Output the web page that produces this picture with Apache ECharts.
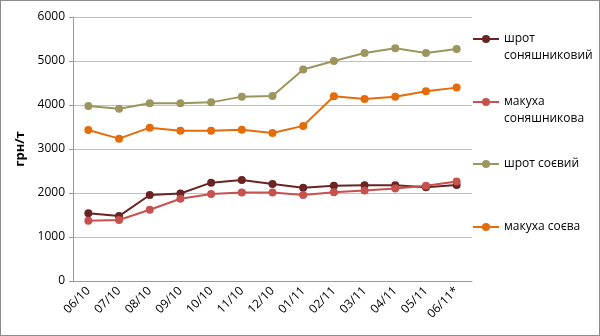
<!DOCTYPE html>
<html><head><meta charset="utf-8">
<script src="https://cdn.jsdelivr.net/npm/echarts@6/dist/echarts.min.js"></script>
<style>
html,body{margin:0;padding:0;background:#fff;}
#c{position:absolute;left:0;top:0;width:598px;height:334px;border:1px solid #8c8c8c;}
</style></head>
<body><div id="c"></div>
<script>
const categories = ['06/10','07/10','08/10','09/10','10/10','11/10','12/10','01/11','02/11','03/11','04/11','05/11','06/11*'];
const sunMeal = [1540,1475,1955,1990,2235,2295,2205,2120,2165,2175,2175,2130,2180];
const sunCake = [1370,1385,1620,1870,1975,2010,2010,1955,2015,2055,2100,2165,2260];
const soyMeal = [3975,3915,4040,4040,4060,4190,4205,4805,5000,5180,5290,5180,5275];
const soyCake = [3430,3235,3485,3415,3415,3440,3365,3525,4200,4135,4190,4310,4395];
const names = ['шрот\nсоняшниковий','макуха\nсоняшникова','шрот соєвий','макуха соєва'];
const colors = ['#6B2424','#C8504D','#9C965E','#E46C0A'];
const yTicks = {min:0,max:6000,interval:1000};

const chart = echarts.init(document.getElementById('c'));
const font = '"Open Sans", "Noto Sans", sans-serif';
const markerY = [38, 101, 163, 226];
const seriesData = [sunMeal, sunCake, soyMeal, soyCake];
chart.setOption({
  animation:false,
  textStyle:{fontFamily:font},
  grid:{left:72,right:127,top:16,bottom:54,containLabel:false},
  legend: names.map((n,i)=>{
    const two = n.indexOf('\n')>=0;
    return {
      data:[n], orient:'vertical', left:471, top: two ? markerY[i]-25.5 : markerY[i]-8.5,
      padding:0, itemWidth:26, itemHeight:10, itemGap:0,
      formatter: name => name.indexOf('\n')>=0 ? '{e| }\n' + name.split('\n').map(s=>'{t|'+s+'}').join('\n') : '{t|'+name+'}',
      textStyle:{fontSize:12,color:'#000',fontFamily:font,
        rich:{e:{height:17,lineHeight:17,fontSize:12},t:{height:17,lineHeight:17,fontSize:12,color:'#000',fontFamily:font}}},
      selectedMode:false
    };
  }),
  xAxis:{type:'category',data:categories,boundaryGap:true,
    axisLine:{lineStyle:{color:'#999',width:1}},
    axisTick:{show:false},
    axisLabel:{rotate:45,fontSize:12,color:'#000',margin:8,interval:0,fontFamily:font}
  },
  yAxis:{type:'value',min:yTicks.min,max:yTicks.max,interval:yTicks.interval,
    name:'грн/т',nameLocation:'middle',nameGap:46,
    nameTextStyle:{fontSize:13,fontWeight:'bold',color:'#000',fontFamily:font},
    axisLine:{show:true,lineStyle:{color:'#999'}},
    axisTick:{show:true,length:4,lineStyle:{color:'#999'}},
    axisLabel:{fontSize:12,color:'#000',margin:8,fontFamily:font,formatter:v=>String(v)},
    splitLine:{lineStyle:{color:'#c0c0c0',width:1}}
  },
  series: names.map((n,i)=>({
    name:n,type:'line',data:seriesData[i],
    symbol:'circle',symbolSize:8,
    lineStyle:{color:colors[i],width:2},
    itemStyle:{color:colors[i]},
    z: i===1||i===3 ? 3 : 2
  }))
});
</script></body></html>
